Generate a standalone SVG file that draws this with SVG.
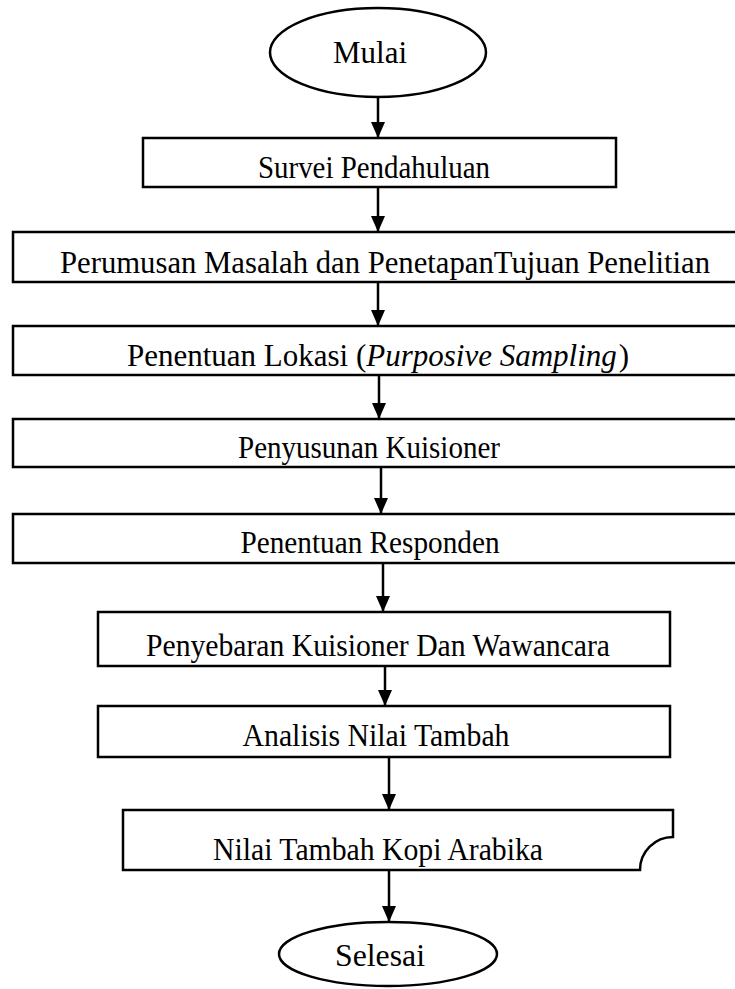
<svg xmlns="http://www.w3.org/2000/svg" width="735" height="989" viewBox="0 0 735 989">
<style>
.s{fill:#fff;stroke:#000;stroke-width:2.5}
.t{font-family:"Liberation Serif","Times New Roman",serif;font-size:31px;fill:#000;text-anchor:middle}
.c{stroke:#000;stroke-width:2.5;fill:none;marker-end:url(#ah)}
</style>
<defs>
<marker id="ah" markerWidth="16" markerHeight="14" refX="16" refY="7" orient="auto" markerUnits="userSpaceOnUse" viewBox="0 0 16 14">
<path d="M0,0 L16,7 L0,14 Z" fill="#000"/>
</marker>
</defs>
<rect width="735" height="989" fill="#fff"/>
<g id="connectors">
<path class="c" d="M378,97 V138"/>
<path class="c" d="M378,187 V232"/>
<path class="c" d="M378,282 V326"/>
<path class="c" d="M379,375 V419"/>
<path class="c" d="M381,467 V514"/>
<path class="c" d="M383,563 V612"/>
<path class="c" d="M385,666 V706"/>
<path class="c" d="M389,757 V810"/>
<path class="c" d="M389,870 V922"/>
</g>
<g id="mulai">
<ellipse class="s" cx="378" cy="52.5" rx="108" ry="44.5"/>
<text class="t" x="370" y="63" font-size="32" textLength="74" lengthAdjust="spacingAndGlyphs">Mulai</text>
</g>
<g id="survei">
<rect class="s" x="143" y="138" width="473" height="49"/>
<text class="t" x="374" y="178" textLength="232" lengthAdjust="spacingAndGlyphs">Survei Pendahuluan</text>
</g>
<g id="perumusan">
<rect class="s" x="13" y="232" width="730" height="50"/>
<text class="t" x="385" y="273" textLength="650" lengthAdjust="spacingAndGlyphs">Perumusan Masalah dan PenetapanTujuan Penelitian</text>
</g>
<g id="lokasi">
<rect class="s" x="13" y="326" width="730" height="49"/>
<text class="t" x="378" y="366" font-size="30">Penentuan Lokasi (<tspan font-style="italic">Purposive Sampling</tspan><tspan dx="2">)</tspan></text>
</g>
<g id="kuisioner">
<rect class="s" x="13" y="419" width="730" height="48"/>
<text class="t" x="369" y="458" textLength="262" lengthAdjust="spacingAndGlyphs">Penyusunan Kuisioner</text>
</g>
<g id="responden">
<rect class="s" x="13" y="514" width="730" height="49"/>
<text class="t" x="370" y="553" textLength="259" lengthAdjust="spacingAndGlyphs">Penentuan Responden</text>
</g>
<g id="penyebaran">
<rect class="s" x="98" y="612" width="572" height="54"/>
<text class="t" x="378" y="656" textLength="464" lengthAdjust="spacingAndGlyphs">Penyebaran Kuisioner Dan Wawancara</text>
</g>
<g id="analisis">
<rect class="s" x="98" y="706" width="572" height="51"/>
<text class="t" x="376" y="746" textLength="267" lengthAdjust="spacingAndGlyphs">Analisis Nilai Tambah</text>
</g>
<g id="nilai">
<path class="s" d="M123,810 H673 V837 A33,33 0 0 0 640,870 H123 Z"/>
<text class="t" x="378" y="860" textLength="330" lengthAdjust="spacingAndGlyphs">Nilai Tambah Kopi Arabika</text>
</g>
<g id="selesai">
<ellipse class="s" cx="388" cy="954" rx="109" ry="32"/>
<text class="t" x="380" y="966" textLength="90" lengthAdjust="spacingAndGlyphs">Selesai</text>
</g>
</svg>
